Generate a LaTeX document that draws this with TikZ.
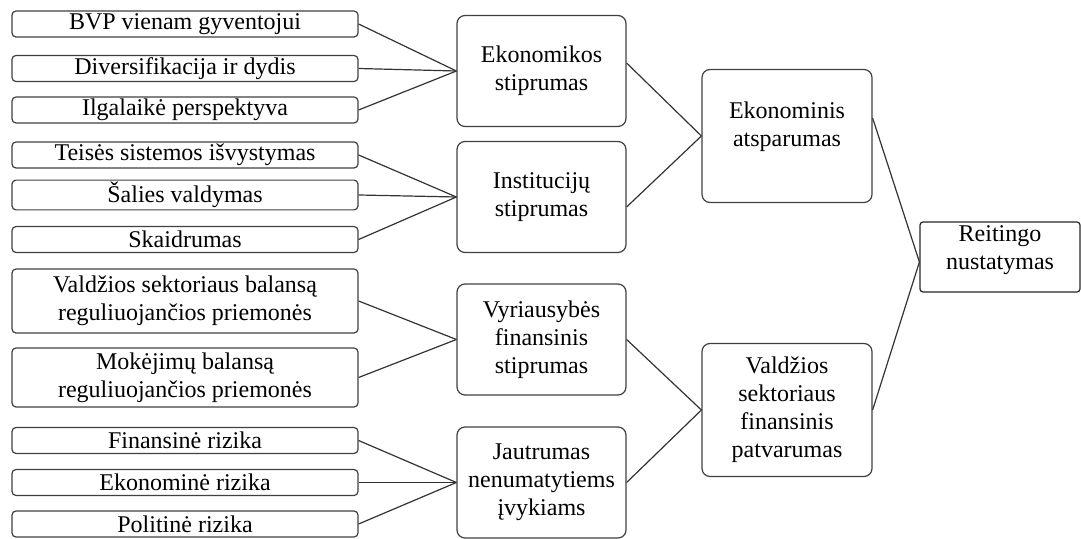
\documentclass[tikz,border=0pt]{standalone}
\usepackage{fontspec}
\setmainfont{Liberation Serif}
\usetikzlibrary{calc}

\begin{document}
\begin{tikzpicture}[
  x=0.5pt, y=-0.5pt,
  font=\fontsize{12}{14}\selectfont,
  factor/.style={draw=black!75, line width=0.6pt, rounded corners=2pt, minimum width=173pt, minimum height=13pt, inner sep=1pt, align=center},
  pillar/.style={draw=black!75, line width=0.6pt, rounded corners=4pt, minimum width=84.5pt, minimum height=55.5pt, text width=80pt, inner sep=1pt, align=center},
  block/.style={pillar, minimum width=85pt, minimum height=66.5pt},
  result/.style={draw=black!85, line width=0.6pt, rounded corners=1.5pt, minimum width=80pt, minimum height=35pt, inner sep=1pt, align=center},
  link/.style={line width=0.6pt, draw=black!80}
]

\useasboundingbox (0,0) rectangle (1081,539);

\def\fx{185}
\def\px{541.5}
\def\bx{787}

% first level factors
\node[factor] (bvp)        at (\fx,24)    {BVP vienam gyventojui};
\node[factor] (divers)     at (\fx,68.5)  {Diversifikacija ir dydis};
\node[factor] (ilgalaike)  at (\fx,110)   {Ilgalaikė perspektyva};
\node[factor] (teise)      at (\fx,155)   {Teisės sistemos išvystymas};
\node[factor] (valdymas)   at (\fx,195)   {Šalies valdymas};
\node[factor] (skaidrumas) at (\fx,239.5) {Skaidrumas};
\node[factor, minimum height=32pt]   (balansas)  at (\fx,301)   {Valdžios sektoriaus balansą\\reguliuojančios priemonės};
\node[factor, minimum height=29.5pt] (mokejimai) at (\fx,377.5) {Mokėjimų balansą\\reguliuojančios priemonės};
\node[factor] (finrizika)  at (\fx,440.5) {Finansinė rizika};
\node[factor] (ekrizika)   at (\fx,482.5) {Ekonominė rizika};
\node[factor] (polrizika)  at (\fx,524)   {Politinė rizika};

\node[pillar] (ekstipr)   at (\px,71)    {Ekonomikos\\stiprumas};
\node[pillar] (inststipr) at (\px,197)   {Institucijų\\stiprumas};
\node[pillar] (vyrstipr)  at (\px,339.5) {Vyriausybės\\finansinis\\stiprumas};
\node[pillar] (jautrumas) at (\px,482.5) {Jautrumas\\nenumatytiems\\įvykiams};

\node[block] (ekatsp) at (\bx,136) {Ekonominis\\atsparumas\\[-2pt]~};
\node[block] (valdpatv) at (\bx,410) {Valdžios\\sektoriaus\\finansinis\\patvarumas};

\node[result, text depth=9pt] (reitingas) at (1000,257) {Reitingo\\nustatymas};

\foreach \f in {bvp,divers,ilgalaike} {
  \draw[link] (\f.east) -- (ekstipr.west);
}
\foreach \f in {teise,valdymas,skaidrumas} {
  \draw[link] (\f.east) -- (inststipr.west);
}
\foreach \f in {balansas,mokejimai} {
  \draw[link] (\f.east) -- (vyrstipr.west);
}
\foreach \f in {finrizika,ekrizika,polrizika} {
  \draw[link] (\f.east) -- (jautrumas.west);
}

\draw[link] ([yshift=4pt]ekstipr.east) -- (ekatsp.west);
\draw[link] ([yshift=-5pt]inststipr.east) -- (ekatsp.west);
\draw[link] (vyrstipr.east) -- (valdpatv.west);
\draw[link] (jautrumas.east) -- (valdpatv.west);

\draw[link] ([yshift=9pt]ekatsp.east) -- ([yshift=-2.5pt]reitingas.west);
\draw[link] (valdpatv.east) -- ([yshift=-2.5pt]reitingas.west);

\end{tikzpicture}
\end{document}
